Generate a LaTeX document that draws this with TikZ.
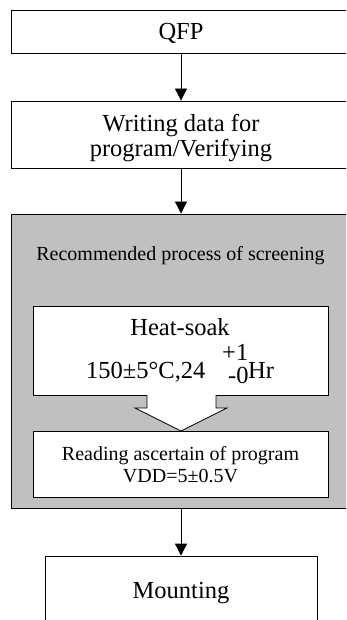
\documentclass[tikz,border=0pt]{standalone}
\usepackage{fontspec}
\setmainfont{Liberation Serif}
\usetikzlibrary{arrows.meta}
\definecolor{scrgray}{RGB}{192,192,192}
\begin{document}
\begin{tikzpicture}[x=1pt,y=-1pt,
  box/.style={draw=black,line width=0.8pt,inner sep=0pt,fill=white},
  big/.style={inner sep=0pt,font=\fontsize{24.5}{25}\selectfont},
  small/.style={inner sep=0pt,font=\fontsize{20}{23}\selectfont},
  arr/.style={line width=0.8pt,-{Triangle[length=12pt,width=12pt]}}]
\clip (0,0) rectangle (346,620);
% top box
\node[box,minimum width=340pt,minimum height=43pt] (qfp) at (181,31.5) {};
\node[big,anchor=base] (qfpt) at (181,40) {QFP};
% writing box
\node[box,minimum width=340pt,minimum height=67pt] (write) at (181,134.5) {};
\node[big,anchor=base] (w1) at (181,131.7) {Writing data for};
\node[big,anchor=base] (w2) at (181,156.7) {program/Verifying};
% screening group
\node[box,fill=scrgray,minimum width=340pt,minimum height=294pt] (scr) at (181,361) {};
\node[small,anchor=base] (rt) at (180.5,260) {Recommended process of screening};
\node[box,minimum width=295pt,minimum height=89pt] (heat) at (180.5,350.5) {};
\node[big,anchor=base] (h1) at (180,335.7) {Heat-soak};
\node[big,anchor=base west] (h2) at (86,378) {150±5°C,24};
\node[big,anchor=base west] (hp) at (222,360) {+1};
\node[big,anchor=base west] (hm) at (228,383) {-0};
\node[big,anchor=base west] (hr) at (248,378) {Hr};
% block arrow
\draw[fill=white,line width=0.8pt] (147,395) -- (147,408) -- (135,408) -- (181,431) -- (227,408) -- (216,408) -- (216,395);
\node[box,minimum width=295pt,minimum height=66pt] (read) at (180.5,464) {};
\node[small,anchor=base] (r1) at (180.5,460) {Reading ascertain of program};
\node[small,anchor=base] (r2) at (180.5,482.7) {VDD=5±0.5V};
% mounting
\node[box,minimum width=272pt,minimum height=70pt] (mount) at (181,591) {};
\node[big,anchor=base] (mt) at (181,598.3) {Mounting};
% connectors
\draw[arr] (qfp.south) -- (write.north);
\draw[arr] (write.south) -- (scr.north);
\draw[arr] (scr.south) -- (mount.north);
\end{tikzpicture}
\end{document}
